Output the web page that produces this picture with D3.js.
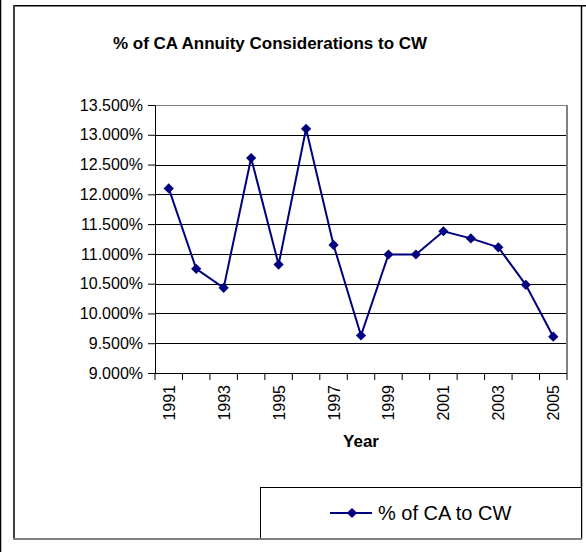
<!DOCTYPE html>
<html>
<head>
<meta charset="utf-8">
<script src="https://cdn.jsdelivr.net/npm/d3@7"></script>
<style>
  body { margin: 0; background: #fff; }
  svg { display: block; font-family: "Liberation Sans", Arial, sans-serif; }
  .axis path, .axis line { stroke: #000; }
  .axis text { font-size: 16px; fill: #000; }
</style>
</head>
<body>
<script>
const years = [1991, 1992, 1993, 1994, 1995, 1996, 1997, 1998, 1999, 2000, 2001, 2002, 2003, 2004, 2005]
const pctToCW = [12.10, 10.75, 10.43, 12.61, 10.82, 13.10, 11.15, 9.63, 10.99, 10.99, 11.38, 11.26, 11.11, 10.48, 9.61]
const yTicks = [9.0, 9.5, 10.0, 10.5, 11.0, 11.5, 12.0, 12.5, 13.0, 13.5]
const labeledYears = [1991, 1993, 1995, 1997, 1999, 2001, 2003, 2005]

const W = 586
const H = 552
const plot = { left: 155, top: 105, right: 567, bottom: 373 }
const navy = '#000080'

const d3 = window.d3

const svg = d3.select('body').append('svg')
  .attr('width', W)
  .attr('height', H)

// outer frames
svg.append('line')
  .attr('x1', 0.5).attr('x2', 0.5).attr('y1', 0).attr('y2', H)
  .attr('stroke', '#000').attr('stroke-width', 1.5)
svg.append('line')
  .attr('x1', 13).attr('x2', 586).attr('y1', 5.8).attr('y2', 5.8)
  .attr('stroke', '#000').attr('stroke-width', 1.5)
svg.append('line')
  .attr('x1', 14).attr('x2', 14).attr('y1', 5).attr('y2', 540)
  .attr('stroke', '#404040').attr('stroke-width', 2)
svg.append('line')
  .attr('x1', 581.5).attr('x2', 581.5).attr('y1', 5).attr('y2', 539)
  .attr('stroke', '#000').attr('stroke-width', 1.5)
svg.append('line')
  .attr('x1', 13).attr('x2', 582).attr('y1', 539).attr('y2', 539)
  .attr('stroke', '#808080').attr('stroke-width', 2)

const xScale = d3.scaleBand().domain(years).range([plot.left, plot.right])
const yScale = d3.scaleLinear().domain([9, 13.5]).range([plot.bottom, plot.top])

// title
svg.append('text')
  .attr('x', 270)
  .attr('y', 49)
  .attr('text-anchor', 'middle')
  .style('font-size', '17px')
  .style('font-weight', 'bold')
  .text('% of CA Annuity Considerations to CW')

// gridlines
svg.append('g')
  .selectAll('line')
  .data(yTicks.slice(1))
  .join('line')
  .attr('x1', plot.left).attr('x2', plot.right)
  .attr('y1', (d) => Math.round(yScale(d)) + 0.5)
  .attr('y2', (d) => Math.round(yScale(d)) + 0.5)
  .attr('stroke', (d) => d === 13.5 ? '#808080' : '#000')
  .attr('stroke-width', 1)

// right border
svg.append('line')
  .attr('x1', plot.right).attr('x2', plot.right)
  .attr('y1', plot.top).attr('y2', plot.bottom)
  .attr('stroke', '#808080').attr('stroke-width', 2)

// y axis
svg.append('g')
  .attr('class', 'axis')
  .attr('transform', `translate(${plot.left},0)`)
  .call(d3.axisLeft(yScale)
    .tickValues(yTicks)
    .tickFormat((d) => d3.format('.3f')(d) + '%')
    .tickSize(7)
    .tickSizeOuter(0)
    .tickPadding(5))

// x axis, ticks between categories
const boundaries = years.map((y) => xScale(y)).concat([plot.right])
const xAxis = svg.append('g')
  .attr('class', 'axis')
  .attr('transform', `translate(0,${plot.bottom})`)
xAxis.append('line')
  .attr('x1', plot.left).attr('x2', plot.right)
  .attr('y1', 0.5).attr('y2', 0.5)
  .attr('stroke', '#000')
xAxis.selectAll('.tick')
  .data(boundaries)
  .join('line')
  .attr('class', 'tick')
  .attr('x1', (d) => d).attr('x2', (d) => d)
  .attr('y1', 0).attr('y2', 7)
  .attr('stroke', '#000')
xAxis.selectAll('.lbl')
  .data(labeledYears)
  .join('text')
  .attr('class', 'lbl')
  .attr('transform', (d) => `translate(${xScale(d) + xScale.bandwidth() / 2 + 6},12) rotate(-90)`)
  .attr('text-anchor', 'end')
  .text((d) => d)

svg.append('text')
  .attr('x', (plot.left + plot.right) / 2)
  .attr('y', 447)
  .attr('text-anchor', 'middle')
  .style('font-size', '17px')
  .style('font-weight', 'bold')
  .text('Year')

// series
const cx = (d, i) => xScale(years[i]) + xScale.bandwidth() / 2
const line = d3.line()
  .x((d, i) => cx(d, i))
  .y((d) => yScale(d))

svg.append('path')
  .datum(pctToCW)
  .attr('d', line)
  .attr('fill', 'none')
  .attr('stroke', navy)
  .attr('stroke-width', 2)

const diamond = d3.symbol().type(d3.symbolSquare).size(52)
svg.append('g')
  .selectAll('path')
  .data(pctToCW)
  .join('path')
  .attr('d', diamond)
  .attr('transform', (d, i) => `translate(${cx(d, i)},${yScale(d)}) rotate(45)`)
  .attr('fill', navy)

// legend
const legend = svg.append('g')
legend.append('rect')
  .attr('x', 260.5).attr('y', 487.5)
  .attr('width', 321).attr('height', 51)
  .attr('fill', '#fff')
  .attr('stroke', '#000')
legend.append('line')
  .attr('x1', 330).attr('x2', 372)
  .attr('y1', 513).attr('y2', 513)
  .attr('stroke', navy).attr('stroke-width', 2)
legend.append('path')
  .attr('d', diamond)
  .attr('transform', 'translate(352,513) rotate(45)')
  .attr('fill', navy)
legend.append('text')
  .attr('x', 378)
  .attr('y', 520)
  .style('font-size', '20px')
  .text('% of CA to CW')
svg.append('line')
  .attr('x1', 260).attr('x2', 582).attr('y1', 539).attr('y2', 539)
  .attr('stroke', '#808080').attr('stroke-width', 2)
</script>
</body>
</html>
